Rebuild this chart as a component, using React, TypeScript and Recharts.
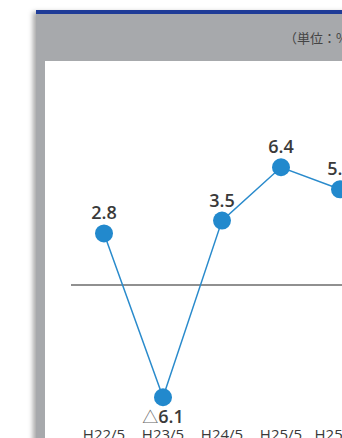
import React from 'react';
import { LineChart, Line, XAxis, YAxis, ReferenceLine, LabelList } from 'recharts';

const categories = ['H22/5', 'H23/5', 'H24/5', 'H25/5', 'H25/11'];
const values = [2.8, -6.1, 3.5, 6.4, 5.2];
const unitLabel = '（単位：%）';

const data = categories.map((c, i) => ({ cat: c, v: values[i] }));

const FONT = '"Open Sans", "Noto Sans CJK JP", sans-serif';

const ValueLabel = (props: any) => {
  const { x, y, value } = props;
  if (value == null) return null;
  if (value >= 0) {
    return (
      <text x={x} y={y - 14} textAnchor="middle" fontFamily={FONT} fontSize={18} fontWeight={600} fill="#3a3a3a">
        {value.toFixed(1)}
      </text>
    );
  }
  return (
    <text x={x} y={y + 26} textAnchor="middle" fontFamily={FONT} fontSize={18} fontWeight={600} fill="#3a3a3a">
      <tspan fontSize={16} fontWeight={400} fill="#666">△</tspan>
      {Math.abs(value).toFixed(1)}
    </text>
  );
};

const Tick = (props: any) => {
  const { x, y, payload } = props;
  return (
    <text x={x} y={y} dy={18.5} textAnchor="middle" fontFamily={FONT} fontSize={15} fill="#3a3a3a">
      {payload.value}
    </text>
  );
};

export default function App() {
  return (
    <div style={{ position: 'absolute', left: 0, top: 0, width: 342, height: 438, overflow: 'hidden', background: '#fff' }}>
      <div
        style={{
          position: 'absolute',
          left: 36,
          top: 10,
          width: 330,
          height: 440,
          background: '#a7a9ac',
          borderTop: '4px solid #1f3c98',
          boxShadow: '-3px 2px 5px rgba(0,0,0,0.35)',
        }}
      />
      <div style={{ position: 'absolute', left: 45, top: 61, width: 320, height: 400, background: '#fff' }} />
      <div
        style={{
          position: 'absolute',
          left: 284,
          top: 28,
          fontFamily: '"Noto Sans CJK JP", sans-serif',
          fontSize: 13,
          color: '#444',
          whiteSpace: 'nowrap',
        }}
      >
        {unitLabel}
      </div>
      <div style={{ position: 'absolute', left: 0, top: 0 }}>
        <LineChart width={370} height={460} data={data} margin={{ top: 137.8, right: 10, bottom: 16.2, left: 71 }}>
          <XAxis
            dataKey="cat"
            scale="point"
            padding={{ left: 33, right: 20 }}
            axisLine={false}
            tickLine={false}
            tick={<Tick />}
            height={30}
            interval={0}
          />
          <YAxis hide domain={[-7, 8]} />
          <ReferenceLine y={0} stroke="#6b6b6b" strokeWidth={1.5} />
          <Line
            dataKey="v"
            stroke="#2a8bcc"
            strokeWidth={1.5}
            dot={{ r: 9, fill: '#2289cd', stroke: 'none' }}
            isAnimationActive={false}
          >
            <LabelList dataKey="v" content={<ValueLabel />} />
          </Line>
        </LineChart>
      </div>
    </div>
  );
}
